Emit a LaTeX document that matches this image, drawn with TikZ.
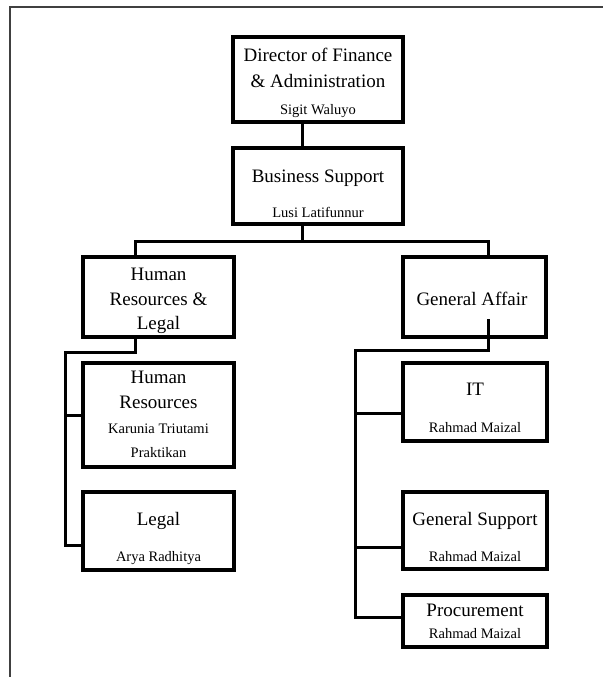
\documentclass[tikz,border=0pt]{standalone}
\usepackage{fontspec}
\setmainfont{Liberation Serif}

\tikzset{
  unit/.style={draw, line width=4pt, inner sep=0pt, outer sep=0pt},
  head/.style={anchor=base, inner sep=0pt, font=\fontsize{19}{23}\selectfont},
  who/.style={anchor=base, inner sep=0pt, font=\fontsize{14.5}{17}\selectfont},
  link/.style={line width=3pt},
  frame/.style={black!75, line width=1.6pt}
}

\begin{document}
\begin{tikzpicture}[x=1pt,y=-1pt]

\useasboundingbox (0,0) rectangle (603,677);

% Page frame
\draw[frame] (10,677) -- (10,7) -- (603,7);

% Boxes
\node[unit, minimum width=170, minimum height=85] (dir) at (318,79.5) {};
\node[unit, minimum width=170, minimum height=76] (bs) at (318,186) {};
\node[unit, minimum width=151, minimum height=80] (hrl) at (158.5,297) {};
\node[unit, minimum width=143, minimum height=80] (ga) at (474.5,297) {};
\node[unit, minimum width=151, minimum height=104] (hr) at (158.5,415) {};
\node[unit, minimum width=151, minimum height=78] (leg) at (158.5,531) {};
\node[unit, minimum width=144, minimum height=78] (it) at (475,402) {};
\node[unit, minimum width=144, minimum height=77] (gs) at (475,530.5) {};
\node[unit, minimum width=144, minimum height=52] (proc) at (475,621) {};

% Titles and names
\node[head] (dir1) at (318,62) {Director of Finance};
\node[head] (dir2) at (318,87) {\& Administration};
\node[who] (dirn) at (318,114) {Sigit Waluyo};

\node[head] (bs1) at (318,182) {Business Support};
\node[who] (bsn) at (318,217) {Lusi Latifunnur};

\node[head] (hrl1) at (158.5,280) {Human};
\node[head] (hrl2) at (158.5,305) {Resources \&};
\node[head] (hrl3) at (158.5,329) {Legal};

\node[head] (ga1) at (472,305) {General Affair};

\node[head] (hr1) at (158.5,383) {Human};
\node[head] (hr2) at (158.5,408) {Resources};
\node[who] (hrn1) at (158.5,433) {Karunia Triutami};
\node[who] (hrn2) at (158.5,457) {Praktikan};

\node[head] (leg1) at (158.5,525) {Legal};
\node[who] (legn) at (158.5,561) {Arya Radhitya};

\node[head] (it1) at (475,395) {IT};
\node[who] (itn) at (475,432) {Rahmad Maizal};

\node[head] (gs1) at (475,525) {General Support};
\node[who] (gsn) at (475,561) {Rahmad Maizal};

\node[head] (proc1) at (475,616) {Procurement};
\node[who] (procn) at (475,638) {Rahmad Maizal};

% Connectors
\coordinate (split) at (302,241);
\coordinate (hrbus) at (65,352);
\coordinate (gabus) at (355,350);
\coordinate (itin) at ([yshift=-11pt]it.west);
\coordinate (gsin) at ([yshift=-16.5pt]gs.west);

\draw[link] ([xshift=-16pt]dir.south) -- ([xshift=-16pt]bs.north);
\draw[link] ([xshift=-16pt]bs.south) -- (split);
\draw[link] ([xshift=-23.5pt]hrl.north) |- (split) -| ([xshift=13.5pt]ga.north);

\draw[link] ([xshift=-23.5pt]hrl.south) |- (hrbus) |- ([yshift=-14pt]leg.west);
\draw[link] (hrbus |- hr.west) -- (hr.west);

\draw[link] ([shift={(13.5pt,18pt)}]ga.south) |- (gabus) |- ([yshift=4pt]proc.west);
\draw[link] (gabus |- itin) -- (itin);
\draw[link] (gabus |- gsin) -- (gsin);

\end{tikzpicture}
\end{document}
